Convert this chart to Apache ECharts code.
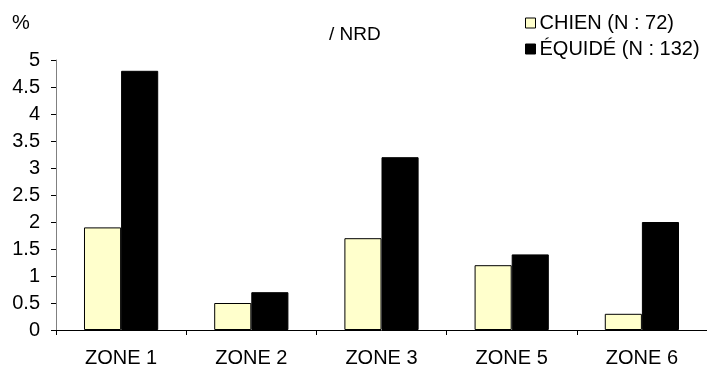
<!DOCTYPE html>
<html><head><meta charset="utf-8">
<script src="https://cdn.jsdelivr.net/npm/echarts@6/dist/echarts.min.js"></script>
<style>html,body{margin:0;padding:0;background:#fff}#c{width:707px;height:368px}</style>
</head><body><div id="c"></div>
<script>
const categories = ['ZONE 1','ZONE 2','ZONE 3','ZONE 5','ZONE 6'];
const chien = [1.9, 0.5, 1.7, 1.2, 0.3];
const equide = [4.8, 0.7, 3.2, 1.4, 2.0];
const seriesNames = ['CHIEN (N : 72)', 'ÉQUIDÉ (N : 132)'];
const F = '"Liberation Sans", Arial, sans-serif';
const chart = echarts.init(document.getElementById('c'));
chart.setOption({
  animation: false,
  backgroundColor: '#fff',
  textStyle: {fontFamily: F},
  grid: {left: 56, right: 0, top: 60, bottom: 38, containLabel: false},
  graphic: [
    {type: 'text', left: 12, top: 13, style: {text: '%', font: '20px ' + F, fill: '#000'}},
    {type: 'text', left: 329, top: 25, style: {text: '/ NRD', font: '19px ' + F, fill: '#000'}}
  ],
  legend: {
    orient: 'vertical', left: 525, top: 13, padding: 0, icon: 'rect',
    itemWidth: 10, itemHeight: 10, itemGap: 6,
    textStyle: {fontSize: 20, color: '#000', fontFamily: F, padding: [0,0,0,-1]},
    data: [
      {name: seriesNames[0], itemStyle: {color: '#FFFFCC', borderColor: '#000', borderWidth: 1}},
      {name: seriesNames[1], itemStyle: {color: '#000', borderColor: '#000', borderWidth: 1}}
    ]
  },
  xAxis: {
    type: 'category', data: categories,
    axisLine: {lineStyle: {color: '#000', width: 1}},
    axisTick: {show: true, length: 5, lineStyle: {color: '#000'}},
    axisLabel: {fontSize: 20, color: '#000', margin: 18, fontFamily: F}
  },
  yAxis: {
    type: 'value', min: 0, max: 5, interval: 0.5,
    splitLine: {show: false},
    axisLine: {show: true, lineStyle: {color: '#808080', width: 1}},
    axisTick: {show: true, length: 5, lineStyle: {color: '#000'}},
    axisLabel: {fontSize: 20, color: '#000', margin: 16, fontFamily: F}
  },
  series: [
    {name: seriesNames[0], type: 'bar', data: chien, barGap: '0%', barCategoryGap: '43%',
     itemStyle: {color: '#FFFFCC', borderColor: '#000', borderWidth: 1}},
    {name: seriesNames[1], type: 'bar', data: equide,
     itemStyle: {color: '#000', borderColor: '#000', borderWidth: 1}}
  ]
});
</script></body></html>
